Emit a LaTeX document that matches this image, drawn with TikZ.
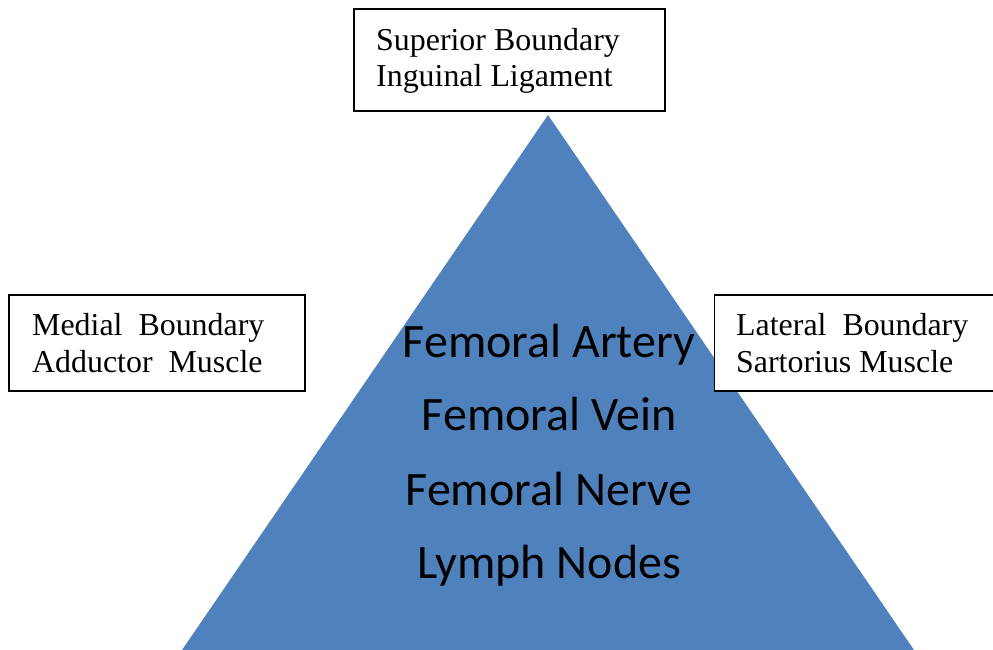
\documentclass[tikz,border=0pt]{standalone}
\usepackage{fontspec}
\setmainfont{Liberation Serif}
\newfontfamily\calfont{Carlito}
\definecolor{triblue}{HTML}{4F81BD}
\tikzset{
  bbox/.style={draw=black, line width=1.4pt, fill=white, inner sep=0pt},
  blabel/.style={anchor=base west, inner sep=0pt, font=\fontsize{31.9}{36}\selectfont},
  clabel/.style={anchor=base, inner sep=0pt, font=\calfont\fontsize{48}{52}\selectfont},
}
\begin{document}
\begin{tikzpicture}[x=1pt,y=-1pt]
\clip (0,0) rectangle (993,650);
\useasboundingbox (0,0) rectangle (993,650);
% triangle
\coordinate (apex) at (548,115);
\coordinate (bl) at (182,650);
\coordinate (br) at (914,650);
\fill[triblue] (apex) -- (br) -- (bl) -- cycle;
% boxes
\node[bbox, minimum width=311pt, minimum height=102pt] (sup) at (509.5,60) {};
\node[blabel] (supt1) at (376,51) {Superior Boundary};
\node[blabel] (supt2) at (376,87) {Inguinal Ligament};
\node[bbox, minimum width=296pt, minimum height=96pt] (med) at (157,343) {};
\node[blabel] (medt1) at (32,335) {Medial\ \ Boundary};
\node[blabel] (medt2) at (32,372) {Adductor\ \ Muscle};
\node[bbox, minimum width=300pt, minimum height=96pt, anchor=west] (lat) at (714,343) {};
\node[blabel] (latt1) at (736,335) {Lateral\ \ Boundary};
\node[blabel] (latt2) at (736,372) {Sartorius Muscle};
% centre text
\node[clabel] (c1) at (549,357) {Femoral Artery};
\node[clabel] (c2) at (549,430) {Femoral Vein};
\node[clabel] (c3) at (549,505) {Femoral Nerve};
\node[clabel] (c4) at (549,578) {Lymph Nodes};
\end{tikzpicture}
\end{document}
